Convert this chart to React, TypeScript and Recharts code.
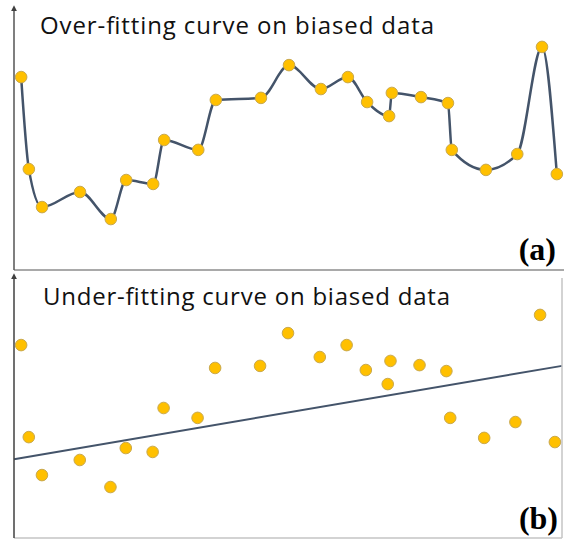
import { ComposedChart, Line, Scatter, XAxis, YAxis } from "recharts";

// x positions of the samples (0-100 across the plot)
const sampleX = [
  1.3, 2.7, 5.1, 12.0, 17.6, 20.4, 25.3, 27.3, 33.5, 36.7, 44.9, 50.0, 55.8,
  60.7, 64.2, 68.2, 68.7, 74.0, 78.9, 79.6, 85.8, 91.5, 96.0, 98.7,
];
// sample heights (0-100)
const sampleY = [
  74.2, 38.8, 24.2, 30.0, 19.6, 34.6, 33.1, 50.0, 46.2, 65.4, 66.2, 78.8, 69.6,
  74.2, 64.6, 59.2, 68.1, 66.5, 64.2, 46.2, 38.5, 44.6, 85.8, 36.9,
];
// straight under-fitting line, two ends
const fitX = [0, 100];
const fitY = [30.3, 66.2];

const topTitle = "Over-fitting curve on biased data";
const bottomTitle = "Under-fitting curve on biased data";

const samples = sampleX.map((x, i) => ({ x, y: sampleY[i] }));
const fitLine = fitX.map((x, i) => ({ x, y: fitY[i] }));

const CURVE = "#44546A";
const DOT_FILL = "#FFC000";
const DOT_STROKE = "#c9a94e";
const TITLE_FONT = "'Open Sans', 'Noto Sans', sans-serif";
const LABEL_FONT = "'Liberation Serif', 'Times New Roman', serif";

const Dot = (props: any) => {
  const { cx, cy } = props;
  return (
    <circle cx={cx} cy={cy} r={5.8} fill={DOT_FILL} stroke={DOT_STROKE} strokeWidth={1} />
  );
};

const ArrowDefs = ({ id }: { id: string }) => (
  <defs>
    <marker
      id={id}
      viewBox="0 0 10 10"
      refX="2"
      refY="5"
      markerWidth="4"
      markerHeight="4"
      orient="auto-start-reverse"
    >
      <path d="M0,0 L10,5 L0,10 z" fill="#404040" />
    </marker>
  </defs>
);

export default function App() {
  return (
    <div
      style={{
        position: "absolute",
        left: 0,
        top: 0,
        width: 564,
        height: 540,
        background: "#fff",
      }}
    >
      <ComposedChart
        width={564}
        height={272}
        data={samples}
        margin={{ top: 10, right: 0, bottom: 1, left: 13 }}
      >
        <ArrowDefs id="arrowA" />
        <XAxis
          dataKey="x"
          type="number"
          domain={[0, 100]}
          height={1}
          tick={false}
          tickLine={false}
          axisLine={{ stroke: "#8c8c8c", strokeWidth: 1.5 }}
        />
        <YAxis
          type="number"
          domain={[0, 100]}
          width={1}
          tick={false}
          tickLine={false}
          axisLine={{
            stroke: "#555",
            strokeWidth: 1.5,
            markerStart: "url(#arrowA)",
          }}
        />
        <Scatter dataKey="y" shape={Dot} isAnimationActive={false} />
        <Line
          dataKey="y"
          type="monotone"
          stroke={CURVE}
          strokeWidth={2.5}
          dot={false}
          activeDot={false}
          isAnimationActive={false}
        />
        <text
          x={40}
          y={34}
          fontFamily={TITLE_FONT}
          fontSize={24}
          textLength={394}
          lengthAdjust="spacing"
          fill="#111"
        >
          {topTitle}
        </text>
        <text
          x={556}
          y={260}
          textAnchor="end"
          fontFamily={LABEL_FONT}
          fontWeight="bold"
          fontSize={32}
          fill="#000"
        >
          (a)
        </text>
      </ComposedChart>
      <ComposedChart
        width={564}
        height={268}
        data={samples}
        margin={{ top: 6, right: 1, bottom: 1, left: 13 }}
      >
        <ArrowDefs id="arrowB" />
        <XAxis
          dataKey="x"
          type="number"
          domain={[0, 100]}
          height={1}
          tick={false}
          tickLine={false}
          axisLine={{ stroke: "#c4c4c4", strokeWidth: 1.5 }}
        />
        <YAxis
          type="number"
          domain={[0, 100]}
          width={1}
          tick={false}
          tickLine={false}
          axisLine={{
            stroke: "#404040",
            strokeWidth: 1.5,
            markerStart: "url(#arrowB)",
          }}
        />
        <YAxis
          yAxisId="frame"
          orientation="right"
          type="number"
          domain={[0, 100]}
          width={1}
          tick={false}
          tickLine={false}
          axisLine={{ stroke: "#c4c4c4", strokeWidth: 1.5 }}
        />
        <Line
          data={fitLine}
          dataKey="y"
          type="linear"
          stroke={CURVE}
          strokeWidth={2}
          dot={false}
          activeDot={false}
          isAnimationActive={false}
        />
        <Scatter dataKey="y" shape={Dot} isAnimationActive={false} />
        <text
          x={43}
          y={33}
          fontFamily={TITLE_FONT}
          fontSize={24}
          textLength={407}
          lengthAdjust="spacing"
          fill="#111"
        >
          {bottomTitle}
        </text>
        <text
          x={558}
          y={257}
          textAnchor="end"
          fontFamily={LABEL_FONT}
          fontWeight="bold"
          fontSize={32}
          fill="#000"
        >
          (b)
        </text>
      </ComposedChart>
    </div>
  );
}
